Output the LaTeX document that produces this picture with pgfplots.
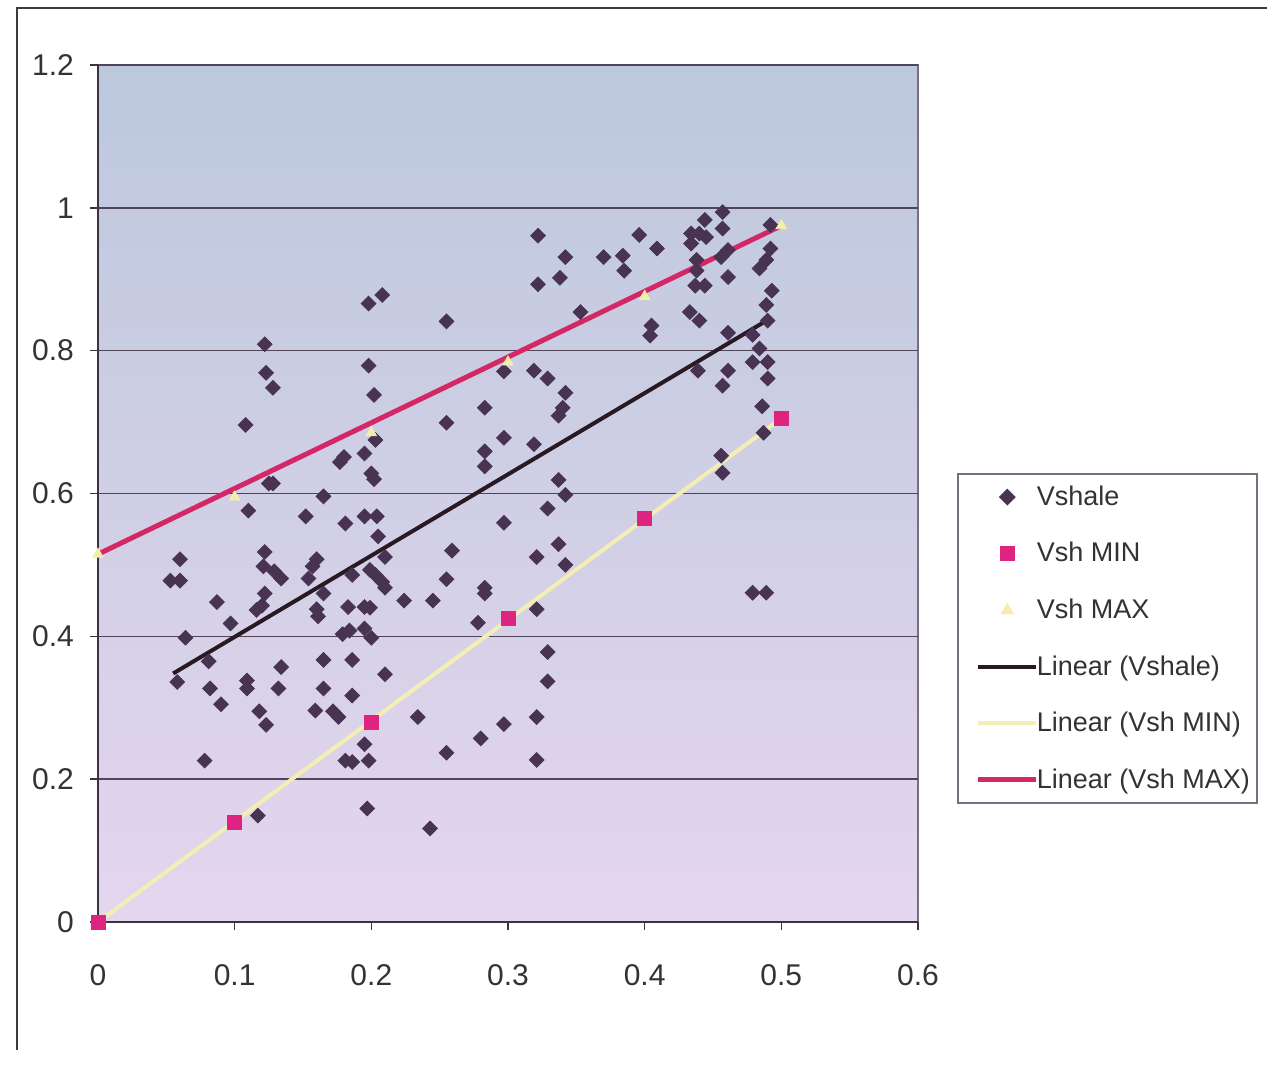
\documentclass[border=0pt]{standalone}
\usepackage{pgfplots}
\pgfplotsset{compat=1.18}
\usepackage{fontspec}
\setmainfont{Liberation Sans}
\definecolor{vsh}{RGB}{72,52,82}
\definecolor{vmin}{RGB}{222,36,128}
\definecolor{vmax}{RGB}{245,238,170}
\definecolor{lvsh}{RGB}{40,25,35}
\definecolor{lmin}{RGB}{244,238,180}
\definecolor{lmax}{RGB}{212,40,102}
\definecolor{gridcol}{RGB}{80,68,88}
\definecolor{bordercol}{RGB}{120,110,128}
\definecolor{axiscol}{RGB}{60,50,65}
\definecolor{bgtop}{RGB}{188,200,220}
\definecolor{bgmid}{RGB}{218,208,230}
\definecolor{bgbot}{RGB}{228,214,238}
\definecolor{framecol}{RGB}{60,60,60}
\newcommand{\LE}[1]{\makebox[99pt][l]{#1}}
\begin{document}
\begin{tikzpicture}
\useasboundingbox (0,0) rectangle (633.5pt,535pt);
\fill[white] (0,0) rectangle (633.5pt,535pt);
\draw[framecol, line width=0.8pt] (8.5pt,10pt) -- (8.5pt,531pt) -- (633.5pt,531pt);
\begin{axis}[
  at={(49pt,74pt)}, anchor=south west,
  scale only axis, width=410pt, height=428.5pt,
  xmin=0, xmax=0.6, ymin=0, ymax=1.2,
  xtick={0,0.1,0.2,0.3,0.4,0.5,0.6},
  xticklabels={0,0.1,0.2,0.3,0.4,0.5,0.6},
  ytick={0,0.2,0.4,0.6,0.8,1,1.2},
  yticklabels={0,0.2,0.4,0.6,0.8,1,1.2},
  axis x line*=bottom, axis y line*=left,
  axis line style={axiscol, line width=1pt, -},
  tick align=outside, major tick length=4pt,
  tick style={axiscol, line width=0.8pt},
  ymajorgrids, grid style={gridcol, line width=0.75pt},
  axis background/.style={top color=bgtop, middle color=bgmid, bottom color=bgbot, draw=bordercol, line width=0.75pt},
  ticklabel style={font=\fontsize{15}{18}\selectfont, text=black!80},
  xticklabel style={yshift=-13.5pt},
  yticklabel style={xshift=-4.5pt},
  clip=false,
  legend image code/.code={\draw[mark repeat=2,mark phase=2,#1] plot coordinates {(0pt,0pt) (14.5pt,0pt) (29pt,0pt)};},
  legend cell align=left,
  legend style={at={(1.0476,0.5239)}, anchor=north west, draw=bordercol, line width=0.8pt, fill=white,
    inner xsep=9pt, inner ysep=4pt, row sep=13pt, column sep=-3pt,
    font=\fontsize{13.5}{16}\selectfont, text=black!80},
]
\addplot[only marks, mark=square*, mark size=2.6pt, mark options={rotate=45, fill=vsh, draw=vsh}, color=vsh] table {
x y
0.198 0.866
0.208 0.878
0.122 0.809
0.123 0.769
0.128 0.748
0.198 0.779
0.202 0.738
0.108 0.696
0.203 0.675
0.195 0.656
0.180 0.651
0.177 0.644
0.200 0.628
0.202 0.620
0.125 0.614
0.128 0.614
0.165 0.596
0.110 0.576
0.152 0.568
0.181 0.558
0.195 0.568
0.204 0.568
0.205 0.540
0.210 0.511
0.060 0.508
0.053 0.478
0.060 0.478
0.122 0.518
0.121 0.498
0.129 0.491
0.134 0.481
0.160 0.508
0.157 0.498
0.154 0.481
0.165 0.460
0.186 0.486
0.199 0.493
0.203 0.486
0.208 0.476
0.210 0.468
0.224 0.450
0.087 0.448
0.122 0.460
0.120 0.443
0.116 0.437
0.097 0.418
0.160 0.438
0.161 0.428
0.183 0.441
0.195 0.441
0.199 0.440
0.179 0.403
0.184 0.408
0.195 0.411
0.200 0.398
0.064 0.398
0.081 0.365
0.058 0.336
0.082 0.327
0.090 0.305
0.109 0.338
0.109 0.327
0.134 0.357
0.132 0.327
0.165 0.367
0.165 0.327
0.186 0.367
0.210 0.347
0.186 0.317
0.159 0.296
0.172 0.295
0.176 0.287
0.118 0.295
0.123 0.276
0.234 0.287
0.195 0.249
0.181 0.226
0.186 0.224
0.198 0.226
0.078 0.226
0.117 0.149
0.197 0.159
0.243 0.131
0.322 0.961
0.342 0.931
0.370 0.931
0.338 0.902
0.322 0.893
0.353 0.854
0.255 0.841
0.297 0.771
0.319 0.772
0.329 0.761
0.342 0.741
0.340 0.720
0.337 0.709
0.283 0.720
0.255 0.699
0.297 0.678
0.283 0.659
0.283 0.638
0.319 0.669
0.337 0.619
0.342 0.598
0.329 0.579
0.297 0.559
0.259 0.520
0.337 0.529
0.321 0.511
0.342 0.500
0.255 0.480
0.245 0.450
0.283 0.468
0.283 0.460
0.321 0.438
0.278 0.419
0.329 0.378
0.329 0.337
0.321 0.287
0.297 0.277
0.280 0.257
0.255 0.237
0.321 0.227
0.396 0.962
0.409 0.943
0.384 0.933
0.385 0.912
0.457 0.994
0.457 0.971
0.444 0.983
0.434 0.964
0.440 0.964
0.434 0.950
0.445 0.959
0.492 0.976
0.461 0.941
0.456 0.931
0.492 0.943
0.489 0.927
0.484 0.915
0.438 0.927
0.438 0.912
0.461 0.903
0.437 0.891
0.444 0.891
0.493 0.884
0.489 0.864
0.490 0.842
0.433 0.854
0.440 0.842
0.405 0.835
0.404 0.821
0.461 0.825
0.479 0.822
0.484 0.803
0.479 0.784
0.490 0.784
0.490 0.761
0.439 0.772
0.461 0.772
0.457 0.751
0.486 0.722
0.487 0.685
0.456 0.653
0.457 0.629
0.479 0.461
0.489 0.461
};
\addlegendentry{\LE{Vshale}}
\addplot[only marks, mark=square*, mark size=3.5pt, color=vmin] coordinates {
(0,0) (0.1,0.14) (0.2,0.28) (0.3,0.425) (0.4,0.565) (0.5,0.705)};
\addlegendentry{\LE{Vsh MIN}}
\addplot[only marks, mark=triangle*, mark size=3pt, color=vmax] coordinates {
(0,0.515) (0.1,0.595) (0.2,0.685) (0.3,0.784) (0.4,0.876) (0.5,0.975)};
\addlegendentry{\LE{Vsh MAX}}
\addplot[lvsh, line width=2pt, mark=none] coordinates {(0.055,0.348) (0.490,0.843)};
\addlegendentry{\LE{Linear (Vshale)}}
\addplot[lmin, line width=2pt, mark=none] coordinates {(0,0) (0.5,0.705)};
\addlegendentry{\LE{Linear (Vsh MIN)}}
\addplot[lmax, line width=2.5pt, mark=none] coordinates {(0,0.515) (0.5,0.975)};
\addlegendentry{\LE{Linear (Vsh MAX)}}
\end{axis}
\end{tikzpicture}
\end{document}
